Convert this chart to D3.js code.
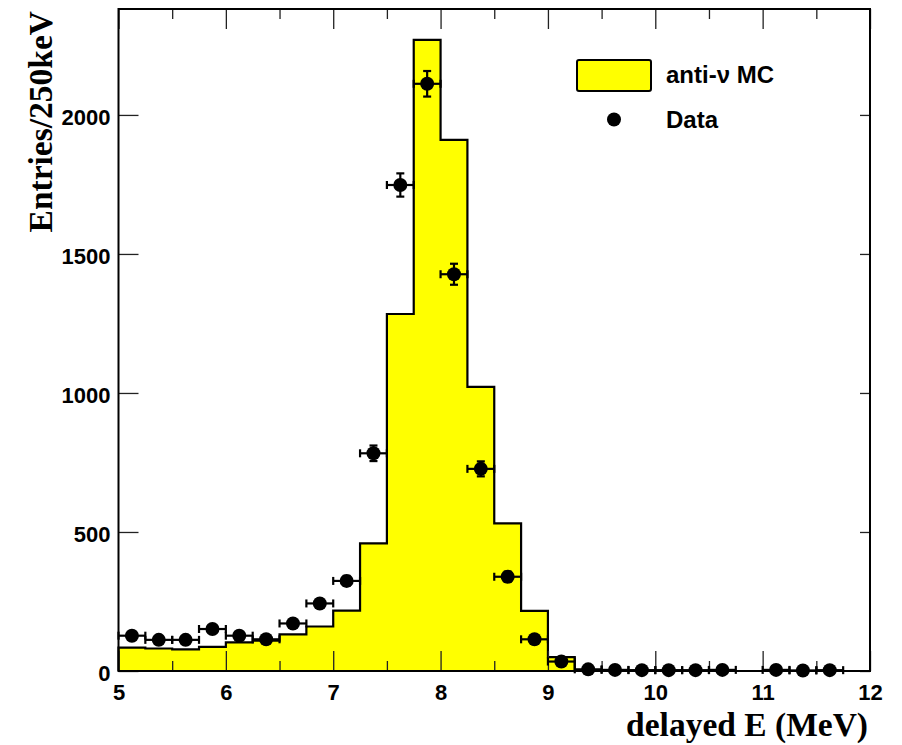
<!DOCTYPE html>
<html>
<head>
<meta charset="utf-8">
<script src="https://cdn.jsdelivr.net/npm/d3@7"></script>
<style>
    body { margin: 0; background: white; }
    svg { display: block; }
</style>
</head>
<body>
<div id="chart"></div>
<script>
// bin edges of the MC histogram (MeV)
const binLow = d3.range(5, 12, 0.25);
const binWidth = 0.25;
// anti-nu MC entries per 250 keV bin
const mcValues = [84, 81, 78, 87, 103, 109, 132, 160, 217, 459, 1284, 2270, 1910, 1022,
    531, 216, 50, 3, 1, 1, 1, 0, 0, 0, 0, 0, 0, 0];
// data points at bin centres (null = empty bin)
const dataCenters = binLow.map(b => b + binWidth / 2);
const dataValues = [127, 112, 112, 151, 127, 114, 171, 243, 324, 783, 1748, 2112, 1427, 727,
    339, 114, 34, 6, 4, 3, 3, 3, 4, null, 4, 2, 3, null];
const xTicks = [5, 6, 7, 8, 9, 10, 11, 12];
const xMinorTicks = d3.range(5.5, 12, 1);
const yTicks = [0, 500, 1000, 1500, 2000];
const legendLabels = ["anti-\u03bd MC", "Data"];

const width = 902, height = 745;
const margin = {top: 9, right: 32, bottom: 74, left: 118.5};
const sans = "'Liberation Sans', Arial, Helvetica, sans-serif";
const serif = "'Liberation Serif', 'Times New Roman', serif";

const svg = d3.select("#chart").append("svg")
    .attr("width", width)
    .attr("height", height);

const x = d3.scaleLinear().domain([5, 12]).range([margin.left, width - margin.right]);
const y = d3.scaleLinear().domain([0, 2381]).range([height - margin.bottom, margin.top]);
const x0 = x.range()[0], x1 = x.range()[1], y0 = y.range()[0], y1 = y.range()[1];

// histogram: filled step area + outline
const steps = mcValues.map((v, i) => [binLow[i], v]);
steps.push([12, mcValues[mcValues.length - 1]]);

svg.append("path")
    .datum(steps)
    .attr("fill", "#ffff00")
    .attr("d", d3.area().curve(d3.curveStepAfter)
        .x(d => x(d[0])).y0(y(0)).y1(d => y(d[1])));

svg.append("path")
    .datum([[5, 0]].concat(steps))
    .attr("fill", "none")
    .attr("stroke", "#000")
    .attr("stroke-width", 2.2)
    .attr("d", d3.line().curve(d3.curveStepAfter).x(d => x(d[0])).y(d => y(d[1])));

// axes (ticks pointing inward, ROOT style)
function styleAxis(g) {
    g.select(".domain").remove();
    g.selectAll(".tick line").attr("stroke", "#222").attr("stroke-width", 1.3);
    g.selectAll(".tick text")
        .attr("fill", "#000")
        .style("font-family", sans)
        .style("font-weight", "bold")
        .style("font-size", "22px");
}

svg.append("g")
    .attr("transform", `translate(0,${y0})`)
    .call(d3.axisBottom(x).tickValues(xTicks).tickFormat(d3.format("d"))
        .tickSizeInner(-20).tickSizeOuter(0).tickPadding(13))
    .call(styleAxis);
svg.append("g")
    .attr("transform", `translate(0,${y0})`)
    .call(d3.axisBottom(x).tickValues(xMinorTicks).tickFormat("")
        .tickSizeInner(-10).tickSizeOuter(0))
    .call(styleAxis);
svg.append("g")
    .attr("transform", `translate(0,${y1})`)
    .call(d3.axisTop(x).tickValues(xTicks).tickFormat("")
        .tickSizeInner(-20).tickSizeOuter(0))
    .call(styleAxis);
svg.append("g")
    .attr("transform", `translate(0,${y1})`)
    .call(d3.axisTop(x).tickValues(xMinorTicks).tickFormat("")
        .tickSizeInner(-10).tickSizeOuter(0))
    .call(styleAxis);

const yAxis = svg.append("g")
    .attr("transform", `translate(${x0},0)`)
    .call(d3.axisLeft(y).tickValues(yTicks).tickFormat(d3.format("d"))
        .tickSizeInner(-20).tickSizeOuter(0).tickPadding(8))
    .call(styleAxis);
yAxis.selectAll(".tick text").attr("dy", "0.42em");
svg.append("g")
    .attr("transform", `translate(${x1},0)`)
    .call(d3.axisRight(y).tickValues(yTicks).tickFormat("")
        .tickSizeInner(-10).tickSizeOuter(0))
    .call(styleAxis);

// frame
svg.append("rect")
    .attr("x", x0).attr("y", y1)
    .attr("width", x1 - x0).attr("height", y0 - y1)
    .attr("fill", "none")
    .attr("stroke", "#000")
    .attr("stroke-width", 2);

// data points with sqrt(N) errors
const points = dataCenters.map((c, i) => ({x: c, v: dataValues[i]})).filter(d => d.v !== null);
const gData = svg.append("g").attr("stroke", "#000").attr("stroke-width", 2.2);
const cap = 4;

gData.selectAll(".hbar").data(points).enter().append("line")
    .attr("x1", d => x(d.x - binWidth / 2)).attr("x2", d => x(d.x + binWidth / 2))
    .attr("y1", d => y(d.v)).attr("y2", d => y(d.v));
gData.selectAll(".hcapL").data(points).enter().append("line")
    .attr("x1", d => x(d.x - binWidth / 2)).attr("x2", d => x(d.x - binWidth / 2))
    .attr("y1", d => y(d.v) - cap).attr("y2", d => y(d.v) + cap);
gData.selectAll(".hcapR").data(points).enter().append("line")
    .attr("x1", d => x(d.x + binWidth / 2)).attr("x2", d => x(d.x + binWidth / 2))
    .attr("y1", d => y(d.v) - cap).attr("y2", d => y(d.v) + cap);
gData.selectAll(".vbar").data(points).enter().append("line")
    .attr("x1", d => x(d.x)).attr("x2", d => x(d.x))
    .attr("y1", d => y(d.v + Math.sqrt(d.v))).attr("y2", d => y(d.v - Math.sqrt(d.v)));
gData.selectAll(".vcapT").data(points).enter().append("line")
    .attr("x1", d => x(d.x) - cap).attr("x2", d => x(d.x) + cap)
    .attr("y1", d => y(d.v + Math.sqrt(d.v))).attr("y2", d => y(d.v + Math.sqrt(d.v)));
gData.selectAll(".vcapB").data(points).enter().append("line")
    .attr("x1", d => x(d.x) - cap).attr("x2", d => x(d.x) + cap)
    .attr("y1", d => y(d.v - Math.sqrt(d.v))).attr("y2", d => y(d.v - Math.sqrt(d.v)));

svg.append("g").selectAll("circle").data(points).enter().append("circle")
    .attr("cx", d => x(d.x))
    .attr("cy", d => y(d.v))
    .attr("r", 7)
    .attr("fill", "#000");

// axis titles
svg.append("text")
    .attr("x", x1 - 2).attr("y", 736)
    .attr("text-anchor", "end")
    .style("font-family", serif).style("font-weight", "bold").style("font-size", "33.5px")
    .text("delayed E (MeV)");
svg.append("text")
    .attr("transform", "translate(52,11) rotate(-90)")
    .attr("text-anchor", "end")
    .style("font-family", serif).style("font-weight", "bold").style("font-size", "33.5px")
    .text("Entries/250keV");

// legend
const leg = svg.append("g");
leg.append("rect")
    .attr("x", 577).attr("y", 60).attr("width", 74).attr("height", 31).attr("rx", 2)
    .attr("fill", "#ffff00").attr("stroke", "#000").attr("stroke-width", 2);
leg.append("circle").attr("cx", 614).attr("cy", 119.5).attr("r", 7).attr("fill", "#000");
leg.selectAll("text").data(legendLabels).enter().append("text")
    .attr("x", 666)
    .attr("y", (d, i) => 83 + i * 45)
    .style("font-family", sans).style("font-weight", "bold").style("font-size", "24px")
    .text(d => d);
</script>
</body>
</html>
